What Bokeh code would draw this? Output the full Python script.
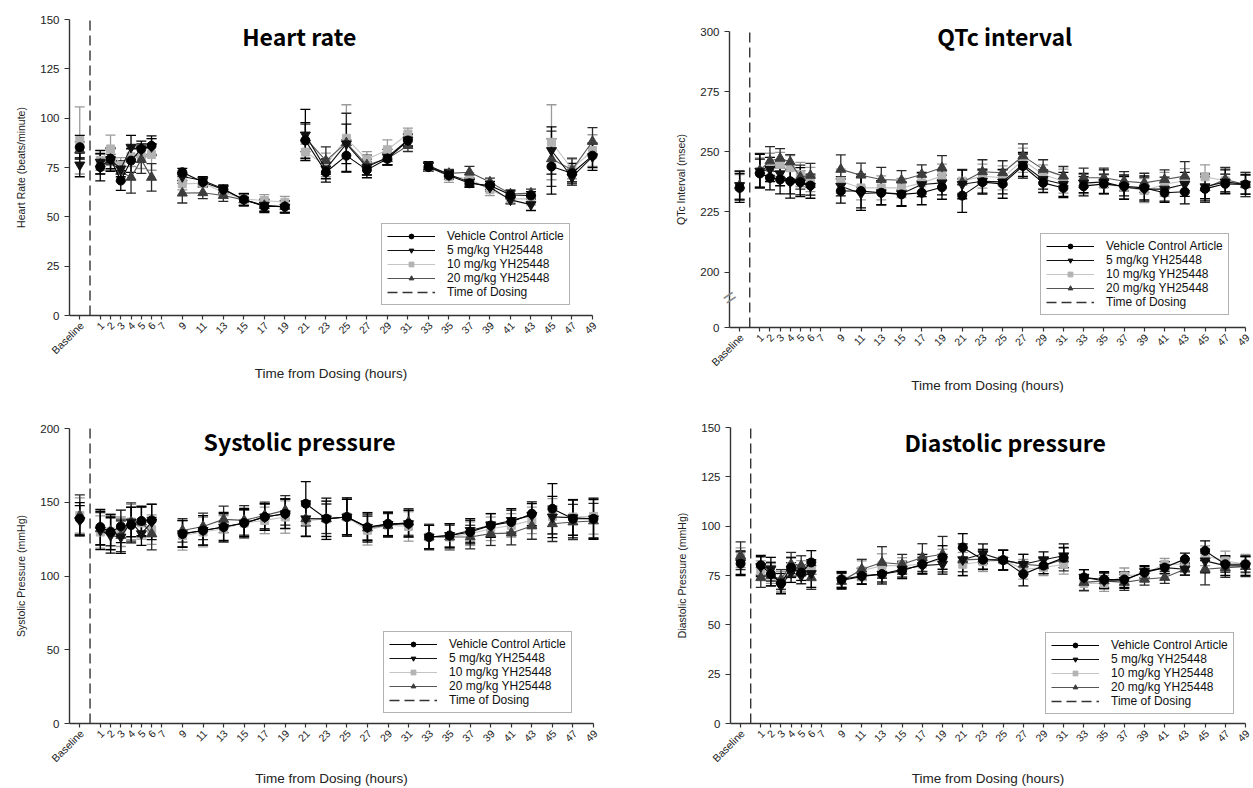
import math
from bokeh.plotting import figure
from bokeh.models import (ColumnDataSource, Range1d, FixedTicker, Whisker, TeeHead,
                          Legend, LegendItem, Label)
from bokeh.layouts import column, row
from bokeh.core.properties import value
from bokeh.embed import file_html
from bokeh.resources import INLINE

# ---------------- data ----------------
HOURS = [-1, 1, 2, 3, 4, 5, 6, 9, 11, 13, 15, 17, 19, 21, 23, 25, 27, 29, 31,
         33, 35, 37, 39, 41, 43, 45, 47, 49]
SEGMENT = [0, 1, 1, 1, 1, 1, 1, 2, 2, 2, 2, 2, 2, 3, 3, 3, 3, 3, 3,
           4, 4, 4, 4, 4, 4, 5, 5, 5]
X_TICKS = [-1, 1, 2, 3, 4, 5, 6, 7] + list(range(9, 50, 2))
X_TICK_LABELS = ["Baseline"] + [str(h) for h in X_TICKS[1:]]
X_MIN, X_MAX = -2, 49
DOSING_TIME = 0
SERIES = ["Vehicle Control Article", "5 mg/kg YH25448", "10 mg/kg YH25448", "20 mg/kg YH25448"]
DOSING_LABEL = "Time of Dosing"
X_LABEL = "Time from Dosing (hours)"

HR_VEH = [85.3, 75.2, 79.4, 68.4, 78.5, 84.4, 86.0, 72.6, 67.6, 63.8, 58.8, 55.2, 55.2, 88.7, 72.6, 81.0, 73.8, 79.4, 88.7, 75.2, 71.0, 67.0, 65.9, 61.1, 60.8, 75.5, 72.1, 81.0]
HR_5 = [76.3, 77.7, 79.0, 74.3, 85.3, 84.0, 85.6, 70.4, 68.4, 64.2, 58.6, 55.9, 54.9, 91.5, 74.3, 87.0, 75.2, 80.2, 89.0, 76.0, 71.4, 67.6, 65.0, 58.6, 56.2, 83.6, 70.1, 80.5]
HR_10 = [88.7, 78.5, 84.4, 76.0, 80.5, 80.5, 81.6, 66.7, 67.0, 62.5, 59.0, 58.3, 57.4, 82.8, 76.3, 89.8, 79.0, 84.0, 92.0, 75.2, 70.5, 69.3, 63.7, 59.1, 59.1, 87.8, 74.3, 83.6]
HR_20 = [84.0, 76.8, 77.7, 73.0, 70.0, 79.0, 70.0, 62.0, 62.2, 60.8, 58.6, 55.7, 55.2, 90.0, 78.5, 87.5, 76.3, 79.4, 86.1, 75.2, 72.0, 72.6, 67.6, 61.6, 62.0, 79.4, 73.8, 88.2]
HR_VEH_ERR = [6, 7, 5, 5, 6, 4, 5, 2, 2, 2, 3, 3, 3, 9, 5, 8, 4, 3, 3, 2, 2, 2, 2, 2, 2, 14, 5, 6]
HR_5_ERR = [6, 6, 6, 4, 6, 3, 4, 2, 2, 2, 3, 3, 3, 13, 5, 10, 4, 4, 3, 2, 2, 2, 2, 2, 3, 12, 4, 7]
HR_10_ERR = [17, 5, 7, 4, 5, 6, 8, 3, 2, 2, 3, 3, 3, 4, 6, 17, 4, 5, 3, 2, 3, 3, 3, 2, 3, 19, 5, 8]
HR_20_ERR = [4, 5, 4, 5, 8, 7, 7, 5, 3, 3, 3, 3, 3, 7, 7, 15, 5, 3, 3, 2, 2, 3, 2, 2, 2, 14, 6, 7]

QTC_VEH = [235, 241, 239.2, 238.5, 237.8, 237.4, 236, 233.7, 233.7, 233, 232.3, 233, 235.3, 231.8, 237.4, 236.7, 244.1, 237.1, 235, 235.7, 236.7, 235.7, 235, 233, 233.4, 234.6, 236.7, 236.4]
QTC_5 = [236, 242, 242.7, 240.9, 237.5, 237.1, 235.7, 235.7, 232.7, 233, 232.6, 236.4, 237.1, 236.5, 237.8, 237.5, 244.8, 238.5, 236.5, 237, 237.5, 235.3, 234.5, 234.5, 236.5, 235.5, 237.5, 236.4]
QTC_10 = [235.5, 241.5, 243.4, 244.8, 243.4, 240.6, 238.5, 237.8, 235, 235, 235, 237.1, 239.9, 237.8, 239.9, 239.2, 246.5, 240.6, 237.8, 236.5, 236.4, 235.5, 233.9, 236.5, 238, 239.6, 238, 236.4]
QTC_20 = [236, 242.3, 246.2, 247.3, 245.8, 239.5, 240.2, 242.7, 240.3, 238.5, 238.2, 240.6, 243.4, 237.4, 241.7, 241.3, 248.3, 242.7, 239.9, 239.2, 239.2, 237.8, 237.1, 238.5, 239.9, 235, 238.5, 236.4]
QTC_VEH_ERR = [6, 6, 5, 6, 7, 6, 4, 5, 7, 5, 5, 5, 5, 7, 5, 6, 5, 4, 4, 4, 4, 4, 5, 4, 5, 5, 4, 4]
QTC_5_ERR = [6, 7, 5, 5, 5, 5, 5, 4, 7, 5, 5, 5, 5, 6, 5, 5, 5, 4, 5, 4, 5, 5, 5, 5, 5, 5, 5, 4]
QTC_10_ERR = [5, 6, 6, 5, 5, 5, 5, 5, 5, 5, 4, 4, 5, 5, 5, 5, 5, 4, 5, 4, 4, 5, 5, 5, 5, 5, 5, 5]
QTC_20_ERR = [6, 7, 6, 4, 3, 5, 5, 6, 5, 5, 4, 4, 5, 5, 5, 5, 5, 4, 4, 4, 4, 4, 4, 4, 6, 6, 5, 5]

SYS_VEH = [138.8, 133.2, 129.8, 133.6, 134.5, 137.3, 137.7, 128.5, 130.9, 133.2, 135.9, 140.0, 142.2, 149.0, 138.8, 140.0, 133.0, 135.4, 135.5, 126.4, 127.5, 129.8, 134.3, 136.6, 142.2, 145.6, 138.8, 138.8]
SYS_5 = [137.7, 130.9, 127.5, 126.4, 136.6, 128.7, 136.6, 128.7, 130.9, 133.2, 135.9, 140.0, 142.2, 138.8, 138.8, 140.0, 133.0, 135.0, 135.5, 126.4, 127.5, 130.9, 134.3, 137.7, 141.1, 140.0, 139.5, 138.8]
SYS_10 = [141.0, 129.8, 130.0, 130.0, 136.6, 136.0, 131.4, 127.5, 129.8, 132.0, 135.9, 137.7, 140.0, 137.3, 138.8, 140.0, 131.0, 134.5, 133.6, 126.4, 126.4, 128.7, 132.0, 134.3, 137.7, 140.4, 140.0, 140.4]
SYS_20 = [141.0, 132.0, 130.5, 127.5, 136.6, 136.6, 128.7, 130.9, 133.6, 138.4, 137.7, 141.1, 144.5, 138.8, 138.8, 140.0, 132.5, 134.3, 136.6, 126.4, 126.4, 126.4, 128.7, 129.1, 133.9, 135.4, 136.6, 137.3]
SYS_VEH_ERR = [11, 12, 12, 11, 12, 10, 11, 9, 10, 9, 10, 9, 10, 15, 12, 12, 9, 8, 9, 8, 8, 8, 8, 8, 8, 17, 13, 13]
SYS_5_ERR = [10, 13, 12, 11, 10, 8, 12, 9, 10, 10, 9, 9, 10, 12, 14, 13, 10, 8, 9, 8, 8, 8, 8, 8, 8, 14, 12, 14]
SYS_10_ERR = [12, 11, 12, 10, 12, 11, 10, 10, 10, 9, 9, 9, 11, 10, 12, 13, 10, 8, 10, 9, 9, 8, 8, 8, 9, 12, 12, 12]
SYS_20_ERR = [14, 11, 10, 11, 13, 10, 11, 8, 9, 9, 10, 9, 10, 12, 10, 12, 8, 8, 9, 8, 8, 8, 8, 8, 9, 12, 12, 12]

DIA_VEH = [81.0, 80.2, 75.7, 71.0, 79.0, 76.5, 81.6, 73.0, 74.8, 75.7, 77.4, 80.7, 84.1, 89.2, 83.0, 82.8, 75.7, 80.0, 84.0, 74.0, 73.0, 73.0, 76.5, 79.0, 83.3, 87.5, 80.7, 80.7]
DIA_5 = [81.5, 79.5, 78.2, 69.7, 76.5, 74.8, 76.0, 72.5, 74.5, 75.7, 78.2, 80.0, 80.7, 83.0, 86.0, 82.8, 80.7, 83.0, 85.0, 74.0, 72.3, 72.5, 77.0, 79.0, 78.2, 82.4, 80.0, 79.9]
DIA_10 = [84.0, 77.4, 76.0, 72.0, 79.5, 78.5, 77.4, 73.0, 77.4, 80.0, 80.0, 80.7, 83.3, 80.7, 82.0, 82.8, 78.2, 79.0, 80.7, 71.0, 71.0, 74.8, 75.7, 80.7, 80.7, 85.0, 82.4, 80.7]
DIA_20 = [85.0, 74.0, 74.8, 73.0, 80.7, 80.0, 74.0, 72.0, 78.2, 81.6, 80.7, 84.1, 85.8, 82.9, 83.3, 82.8, 80.7, 79.9, 83.3, 71.5, 72.3, 71.5, 73.1, 74.0, 78.2, 78.2, 79.0, 79.5]
DIA_VEH_ERR = [6, 5, 6, 5, 5, 4, 6, 4, 4, 5, 4, 5, 6, 7, 5, 5, 6, 4, 5, 4, 4, 4, 3, 3, 3, 5, 4, 4]
DIA_5_ERR = [6, 5, 6, 4, 5, 4, 7, 4, 4, 4, 4, 4, 5, 8, 5, 5, 5, 4, 6, 4, 4, 4, 3, 3, 3, 6, 5, 5]
DIA_10_ERR = [5, 5, 5, 5, 5, 4, 5, 4, 5, 6, 4, 4, 5, 6, 5, 5, 5, 4, 5, 4, 4, 4, 3, 3, 3, 5, 5, 5]
DIA_20_ERR = [7, 5, 5, 5, 6, 5, 6, 4, 5, 8, 5, 7, 9, 6, 5, 5, 5, 4, 6, 4, 4, 4, 3, 3, 3, 8, 5, 5]

# ---------------- styling ----------------
FONT = "Liberation Sans"
STYLES = [
    dict(color="#000000", line="#000000", marker="circle", size=9, err="#000000"),
    dict(color="#111111", line="#111111", marker="inverted_triangle", size=10, err="#000000"),
    dict(color="#b3b3b3", line="#c4c4c4", marker="square", size=8, err="#9a9a9a"),
    dict(color="#3d3d3d", line="#555555", marker="triangle", size=10, err="#2a2a2a"),
]
DRAW_ORDER = [2, 3, 1, 0]
BORDER = 2


def split_segments(xs, ys):
    lx, ly = [], []
    prev = None
    for x, y, s in zip(xs, ys, SEGMENT):
        if prev is not None and s != prev:
            lx.append(float("nan"))
            ly.append(float("nan"))
        lx.append(x)
        ly.append(y)
        prev = s
    return lx, ly


def make_panel(title, ylabel, series, errs, ylim, yticks, overrides, geo,
               title_pos, legend_box, breakmark=None):
    W, H = geo["W"], geo["H"]
    top, axis_y = geo["top"], geo["axis_y"]
    axis_left, x49 = geo["axis_left"], geo["x49"]
    b_bottom = geo.get("b_bottom", BORDER)
    f_left, f_right, f_top, f_bottom = BORDER, W - BORDER, BORDER, H - b_bottom
    y0, y1 = ylim
    upp = (y1 - y0) / (axis_y - top)
    y_start = y0 - (f_bottom - axis_y) * upp
    y_end = y1 + (top - f_top) * upp
    hpp = (X_MAX - X_MIN) / (x49 - axis_left)
    x_start = X_MIN - (axis_left - f_left) * hpp
    x_end = X_MAX + (f_right - x49) * hpp

    p = figure(width=W, height=H, output_backend="svg", toolbar_location=None,
               title_location=None,
               x_range=Range1d(x_start, x_end), y_range=Range1d(y_start, y_end),
               min_border_left=BORDER, min_border_right=BORDER,
               min_border_top=BORDER, min_border_bottom=b_bottom)
    p.outline_line_color = None
    p.xgrid.visible = False
    p.ygrid.visible = False
    p.background_fill_color = "white"
    p.border_fill_color = "white"

    for ax in (p.xaxis[0], p.yaxis[0]):
        ax.axis_line_color = "#333333"
        ax.axis_line_width = 1.4
        ax.major_tick_line_color = "#333333"
        ax.major_tick_line_width = 1.2
        ax.major_tick_in = 0
        ax.minor_tick_line_color = None
        ax.major_label_text_font = FONT
        ax.major_label_text_color = "#222222"
        ax.axis_label_text_font = FONT
        ax.axis_label_text_font_style = "normal"
        ax.axis_label_text_color = "#222222"

    # x axis at y0; tick labels drawn rotated by a text glyph
    p.xaxis.fixed_location = y0
    p.xaxis.bounds = (X_MIN, X_MAX)
    p.xaxis.ticker = FixedTicker(ticks=X_TICKS)
    p.xaxis.major_label_text_color = None
    p.xaxis.major_tick_out = 4
    p.xaxis.axis_label = X_LABEL
    p.xaxis.axis_label_text_font_size = "13.5px"
    p.xaxis.axis_label_standoff = geo.get("xlab_standoff", 46)
    tick_src = ColumnDataSource(dict(x=X_TICKS, y=[y0] * len(X_TICKS), text=X_TICK_LABELS))
    p.text(x="x", y="y", text="text", source=tick_src, angle=math.pi / 4,
           x_offset=2, y_offset=8, text_align="right", text_baseline="middle",
           text_font=value(FONT), text_font_size=value("10.5px"), text_color="#222222")

    # y axis at X_MIN
    p.yaxis.fixed_location = X_MIN
    p.yaxis.bounds = (y0, y1)
    p.yaxis.ticker = FixedTicker(ticks=yticks)
    if overrides:
        p.yaxis.major_label_overrides = overrides
    p.yaxis.major_label_text_font_size = "11.5px"
    p.yaxis.major_tick_out = 5
    p.yaxis.axis_label = ylabel
    p.yaxis.axis_label_text_font_size = "10.5px"
    p.yaxis.axis_label_standoff = 10

    dose = p.line([DOSING_TIME, DOSING_TIME], [y0, y1], line_color="#333333",
                  line_width=1.4, line_dash="10 5")

    rends = {}
    for i in DRAW_ORDER:
        st = STYLES[i]
        ys = series[i]
        er = errs[i]
        src = ColumnDataSource(dict(x=HOURS, y=ys,
                                    upper=[v + e for v, e in zip(ys, er)],
                                    lower=[v - e for v, e in zip(ys, er)]))
        w = Whisker(source=src, base="x", upper="upper", lower="lower",
                    line_color=st["err"], line_width=1.3,
                    upper_head=TeeHead(size=10, line_color=st["err"], line_width=1.3),
                    lower_head=TeeHead(size=10, line_color=st["err"], line_width=1.3))
        p.add_layout(w)
        lx, ly = split_segments(HOURS, ys)
        lr = p.line(lx, ly, line_color=st["line"], line_width=1.1)
        mr = p.scatter("x", "y", source=src, marker=st["marker"], size=st["size"],
                       fill_color=st["color"], line_color=st["color"])
        rends[i] = (lr, mr)

    items = [LegendItem(label=SERIES[i], renderers=list(rends[i])) for i in range(4)]
    items.append(LegendItem(label=DOSING_LABEL, renderers=[dose]))
    leg = Legend(items=items,
                 location=(legend_box[0] - f_left, f_bottom - legend_box[1]),
                 label_text_font=FONT,
                 label_text_font_size="12px", label_text_color="#111111",
                 glyph_width=48, glyph_height=12, label_height=12, spacing=0,
                 padding=5, margin=0, label_standoff=12,
                 border_line_color="#666666", border_line_width=1,
                 background_fill_color="white", background_fill_alpha=1)
    p.add_layout(leg)

    p.add_layout(Label(x=title_pos[0], y=title_pos[1], text=title,
                       text_font="Noto Sans CJK KR", text_font_style="bold",
                       text_font_size="23px", text_align="center",
                       text_baseline="middle", text_color="#000000"))
    if breakmark is not None:
        p.add_layout(Label(x=X_MIN, y=breakmark, text="=", text_font=FONT, angle=0.6,
                           text_font_size="22px", text_align="center",
                           text_baseline="middle", text_color="#888888"))
    return p


GEO1 = dict(W=626, H=394, top=19, axis_y=315, axis_left=69, x49=592)
GEO2 = dict(W=627, H=394, top=31, axis_y=327, axis_left=103, x49=619)
GEO3 = dict(W=626, H=394, top=34, axis_y=329, axis_left=69, x49=593, b_bottom=0, xlab_standoff=43)
GEO4 = dict(W=627, H=394, top=33, axis_y=329, axis_left=104, x49=619, b_bottom=0, xlab_standoff=43)

p1 = make_panel("Heart rate", "Heart Rate (beats/minute)",
                [HR_VEH, HR_5, HR_10, HR_20], [HR_VEH_ERR, HR_5_ERR, HR_10_ERR, HR_20_ERR],
                (0, 150), [0, 25, 50, 75, 100, 125, 150], None,
                GEO1, (20.4, 141.4), (381, 305))

QTC_BREAK_BASE = 177
p2 = make_panel("QTc interval", "QTc Interval (msec)",
                [QTC_VEH, QTC_5, QTC_10, QTC_20], [QTC_VEH_ERR, QTC_5_ERR, QTC_10_ERR, QTC_20_ERR],
                (QTC_BREAK_BASE, 300), [QTC_BREAK_BASE, 200, 225, 250, 275, 300],
                {QTC_BREAK_BASE: "0"},
                GEO2, (25.2, 298.3), (414, 315), breakmark=189.5)

p3 = make_panel("Systolic pressure", "Systolic Pressure (mmHg)",
                [SYS_VEH, SYS_5, SYS_10, SYS_20], [SYS_VEH_ERR, SYS_5_ERR, SYS_10_ERR, SYS_20_ERR],
                (0, 200), [0, 50, 100, 150, 200], None,
                GEO3, (20.4, 191.5), (383, 319))

p4 = make_panel("Diastolic pressure", "Diastolic Pressure (mmHg)",
                [DIA_VEH, DIA_5, DIA_10, DIA_20], [DIA_VEH_ERR, DIA_5_ERR, DIA_10_ERR, DIA_20_ERR],
                (0, 150), [0, 25, 50, 75, 100, 125, 150], None,
                GEO4, (25.2, 142.8), (419, 320))

layout = column(row(p1, p2), row(p3, p4))
open("out.html", "w").write(file_html(layout, INLINE))
